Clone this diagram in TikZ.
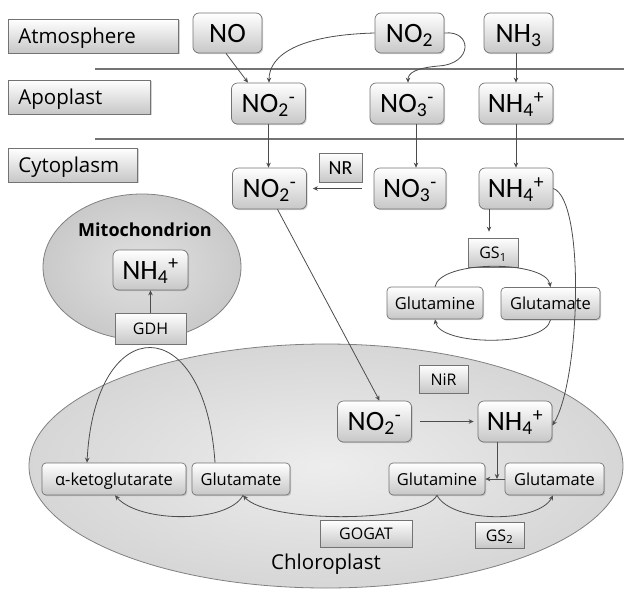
\documentclass[tikz,border=0pt]{standalone}
\usepackage{fontspec}
\setmainfont{Carlito}
\newfontfamily\labelfont{Open Sans}
\usetikzlibrary{arrows.meta,shadows,shapes.geometric,positioning}
\tikzset{
box/.style={
  draw=black!55, line width=0.7pt,
  top color=white, bottom color=black!22,
  drop shadow={opacity=0.35,shadow xshift=1.2pt,shadow yshift=-1.2pt},
  inner sep=0pt, align=center
},
chem/.style={box, rounded corners=6pt, minimum width=74pt, minimum height=41pt,
  font=\fontsize{28}{30}\selectfont, text height=18pt, text depth=0pt},
region/.style={box, inner xsep=10pt, minimum height=34pt, align=left, anchor=west,
  font=\labelfont\fontsize{20.5}{23}\selectfont, text height=15pt, text depth=0pt},
metab/.style={box, rounded corners=4pt, minimum height=32pt,
  font=\labelfont\fontsize{16.5}{19}\selectfont, text height=12pt, text depth=0pt},
enzyme/.style={box, minimum height=29pt,
  font=\labelfont\fontsize{16}{19}\selectfont, text height=12pt, text depth=0pt},
organelle/.style={ellipse, draw=black!50, line width=0.8pt, inner sep=0pt},
arr/.style={-{Stealth[length=5pt,width=4.5pt]}, draw=black!70, line width=0.8pt},
sep/.style={draw=black!55, line width=1.2pt}
}

\begin{document}
\begin{tikzpicture}[x=1pt,y=-1pt]
\useasboundingbox (0,0) rectangle (624,590);

\node[organelle, inner color=black!7, outer color=black!16,
  minimum width=594pt, minimum height=244pt] (chloro) at (326,466) {};
\node[organelle, inner color=black!12, outer color=black!21,
  minimum width=198pt, minimum height=146pt] (mito) at (142,267) {};

\draw[sep] (95,69) -- (624,69);
\draw[sep] (95,139) -- (624,139);

\node[region, text width=150pt] (atm) at (8,36) {Atmosphere};
\node[region, text width=122pt] (apo) at (8,97) {Apoplast};
\node[region, text width=109pt] (cyt) at (8,165) {Cytoplasm};

\node[chem, minimum width=69pt, minimum height=40pt] (no) at (227.5,33) {NO};
\node[chem, minimum width=69pt, minimum height=40pt] (no2a) at (409.5,33) {NO\textsubscript{2}};
\node[chem, minimum width=69pt, minimum height=40pt] (nh3) at (518.5,33) {NH\textsubscript{3}};

\node[chem] (no2b) at (268.5,103.5) {NO\textsubscript{2}\textsuperscript{-}};
\node[chem] (no3a) at (407,103.5) {NO\textsubscript{3}\textsuperscript{-}};
\node[chem] (nh4a) at (516,103.5) {NH\textsubscript{4}\textsuperscript{+}};

\node[chem] (no2c) at (269.5,188.5) {NO\textsubscript{2}\textsuperscript{-}};
\node[enzyme, minimum width=43pt, font=\fontsize{20}{22}\selectfont, text height=13pt] (nr) at (340.5,167.5) {NR};
\node[chem, minimum width=72pt] (no3c) at (410,188.5) {NO\textsubscript{3}\textsuperscript{-}};
\node[chem] (nh4c) at (516,188.5) {NH\textsubscript{4}\textsuperscript{+}};

\node[enzyme, minimum width=50pt] (gs1) at (493,252.5) {GS\textsubscript{1}};
\node[metab, minimum width=96pt] (glnc) at (435,303) {Glutamine};
\node[metab, minimum width=99pt] (gluc) at (550.5,303.5) {Glutamate};

\node[font=\labelfont\bfseries\fontsize{18}{21}\selectfont] (mitolbl) at (145,230) {Mitochondrion};
\node[chem, minimum width=75pt, minimum height=40pt] (nh4m) at (150.5,270) {NH\textsubscript{4}\textsuperscript{+}};
\node[enzyme, minimum width=71pt, minimum height=31pt] (gdh) at (150.5,328.5) {GDH};

\node[enzyme, minimum width=49pt, minimum height=28pt] (nir) at (443.5,379) {NiR};
\node[chem] (no2d) at (374.5,421.5) {NO\textsubscript{2}\textsuperscript{-}};
\node[chem] (nh4d) at (515,421.5) {NH\textsubscript{4}\textsuperscript{+}};

\node[metab, minimum width=144pt] (akg) at (114,479) {α-ketoglutarate};
\node[metab, minimum width=98pt] (glul) at (241,479) {Glutamate};
\node[metab, minimum width=96pt] (glnd) at (437,479) {Glutamine};
\node[metab, minimum width=99pt] (glud) at (554.5,479) {Glutamate};

\node[enzyme, minimum width=92pt, minimum height=27pt] (gogat) at (366,533.5) {GOGAT};
\node[enzyme, minimum width=49pt, minimum height=26pt] (gs2) at (499.5,535) {GS\textsubscript{2}};
\node[font=\labelfont\fontsize{20.5}{23}\selectfont] (chlorolbl) at (326,564) {Chloroplast};

\draw[arr] ([xshift=-1.5pt]no.south) -- ([xshift=-20.5pt]no2b.north);
\draw[arr] (no2a.west) .. controls +(-75,2) and +(0,-28) .. ([xshift=0.5pt]no2b.north);
\draw[arr] (no2a.east) .. controls +(28,-3) and +(35,-2) .. ++(-6,33)
  .. controls +(-22,2) and +(0,-10) .. ([xshift=1pt]no3a.north);
\draw[arr] (nh3.south -| nh4a.north) -- (nh4a.north);

\draw[arr] (no2b.south) -- (no2b.south |- no2c.north);
\draw[arr] ([xshift=9pt]no3a.south) -- ([xshift=9pt]no3a.south |- no3c.north);
\draw[arr] (nh4a.south) -- (nh4c.north);
\draw[arr] ([xshift=-12pt]no3c.west) -- ([xshift=6pt]no2c.east);

\draw[arr, shorten >=6pt] ([xshift=-27pt]nh4c.south) -- ([xshift=-27pt]nh4c.south |- gs1.north);
\draw[arr] (glnc.north) .. controls +(5,-27) and +(-5,-27) .. (gluc.north);
\draw[arr] (gluc.south) .. controls +(-5,27) and +(5,27) .. (glnc.south);
\draw[arr] (nh4c.east) .. controls +(32,11.5) and +(28,-45.5) .. ([yshift=-4pt]nh4d.east);

\draw[arr] ([xshift=8pt]no2c.south) -- ([xshift=5pt]no2d.north);
\draw[arr] ([xshift=8pt]no2d.east) -- ([xshift=-4pt]nh4d.west);
\draw[arr] ([xshift=-18pt]nh4d.south) -- ([xshift=-18pt]nh4d.south |- glnd.east);
\draw[arr] (glud.west) -- (glnd.east);

\draw[arr] (glnd.south) .. controls +(-15,28) and +(25,28) .. ([xshift=2pt]glul.south);
\draw[arr] ([xshift=2pt]glul.south) .. controls +(-15,28) and +(25,28) .. ([xshift=1pt]akg.south);
\draw[arr] (glnd.south) .. controls +(15,28) and +(-15,28) .. ([xshift=-1.5pt]glud.south);

\draw[arr] (gdh.north) -- (nh4m.south);
\draw[arr] ([xshift=-26pt]glul.north) .. controls +(-10,-153) and +(8,-153) .. ([xshift=-27pt]akg.north);
\end{tikzpicture}
\end{document}
